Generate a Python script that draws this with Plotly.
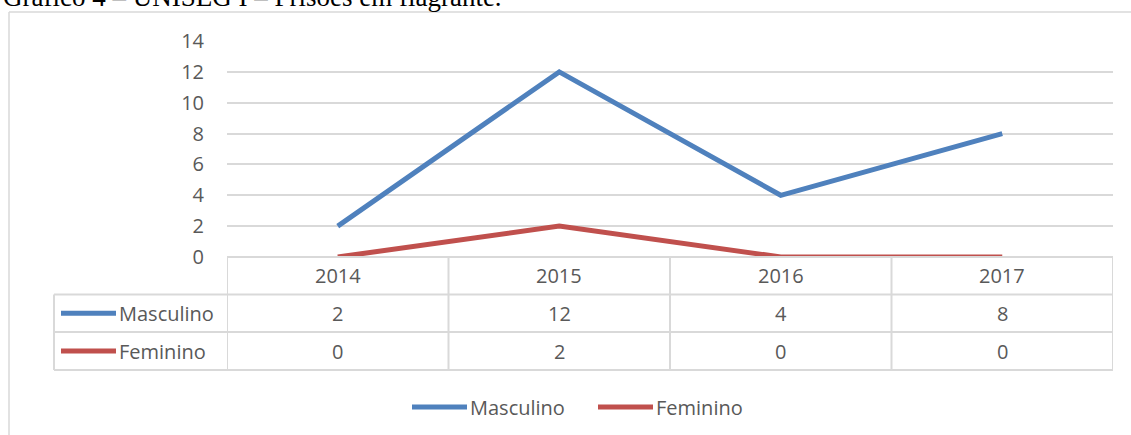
import plotly.graph_objects as go

# ---- data ----
years = ["2014", "2015", "2016", "2017"]
masculino = [2, 12, 4, 8]
feminino = [0, 2, 0, 0]
series_names = ["Masculino", "Feminino"]
y_ticks = [0, 2, 4, 6, 8, 10, 12, 14]
title_text = "Gráfico 4 – UNISEG I – Prisões em flagrante."

# ---- styling ----
W, H = 1131, 435
L, R, T, B = 227, 1113, 41, 257
BLUE = "#4f81bd"
RED = "#c0504d"
GRID = "#d9d9d9"
TXT = "#595959"
FONT = "Open Sans"
FS = 20


def px(xp):
    return (xp - L) / (R - L)


def py(yp):
    return 1 - (yp - T) / (B - T)


fig = go.Figure()
series = [masculino, feminino]
colors = [BLUE, RED]
for name, vals, c in zip(series_names, series, colors):
    fig.add_trace(go.Scatter(x=years, y=vals, mode="lines", name=name,
                             line=dict(color=c, width=5), showlegend=False,
                             cliponaxis=False))

shapes = []
annotations = []

# frame of the chart area
shapes.append(dict(type="line", xref="paper", yref="paper", x0=px(9), x1=px(W + 5),
                   y0=py(12), y1=py(12), line=dict(color=GRID, width=1.5)))
shapes.append(dict(type="line", xref="paper", yref="paper", x0=px(9), x1=px(9),
                   y0=py(12), y1=py(H + 5), line=dict(color=GRID, width=1.5)))

# data table
row_y = [257, 294.5, 332, 370]
tl = dict(color=GRID, width=2)
shapes.append(dict(type="line", xref="paper", yref="paper", x0=0, x1=1,
                   y0=py(row_y[0]), y1=py(row_y[0]), line=tl))
for ry in row_y[1:]:
    shapes.append(dict(type="line", xref="paper", yref="paper", x0=px(54), x1=1,
                       y0=py(ry), y1=py(ry), line=tl))
shapes.append(dict(type="line", xref="paper", yref="paper", x0=px(54), x1=px(54),
                   y0=py(row_y[1]), y1=py(row_y[3]), line=tl))
for k in range(len(years) + 1):
    shapes.append(dict(type="line", xref="x", yref="paper", x0=k - 0.5, x1=k - 0.5,
                       y0=py(row_y[0]), y1=py(row_y[3]), line=tl))

cell_font = dict(family=FONT, size=FS, color=TXT)

# header years
for k, yr in enumerate(years):
    annotations.append(dict(x=k, y=py((row_y[0] + row_y[1]) / 2), xref="x", yref="paper",
                            text=yr, showarrow=False, xanchor="center", yanchor="middle",
                            font=cell_font))
# rows
for i, (name, vals, c) in enumerate(zip(series_names, series, colors)):
    cy = (row_y[i + 1] + row_y[i + 2]) / 2
    shapes.append(dict(type="line", xref="paper", yref="paper", x0=px(61), x1=px(116),
                       y0=py(cy), y1=py(cy), line=dict(color=c, width=5)))
    annotations.append(dict(x=px(117), y=py(cy), xref="paper", yref="paper", text=name,
                            xanchor="left", yanchor="middle", showarrow=False,
                            font=cell_font))
    for k, v in enumerate(vals):
        annotations.append(dict(x=k, y=py(cy), xref="x", yref="paper", text=str(v),
                                showarrow=False, xanchor="center", yanchor="middle",
                                font=cell_font))

# bottom legend
leg_y = 407
leg_x = [412, 598]
for name, c, lx in zip(series_names, colors, leg_x):
    shapes.append(dict(type="line", xref="paper", yref="paper", x0=px(lx), x1=px(lx + 55),
                       y0=py(leg_y), y1=py(leg_y), line=dict(color=c, width=5)))
    annotations.append(dict(x=px(lx + 56), y=py(leg_y), xref="paper", yref="paper", text=name,
                            xanchor="left", yanchor="middle", showarrow=False,
                            font=cell_font))

# title (cut at the top, as in the source)
annotations.append(dict(x=px(1), y=py(14), xref="paper", yref="paper", text=title_text,
                        xanchor="left", yanchor="bottom", showarrow=False,
                        font=dict(family="Liberation Serif", size=27, color="black")))

fig.update_layout(
    width=W, height=H,
    margin=dict(l=L, r=W - R, t=T, b=H - B, pad=0),
    paper_bgcolor="white", plot_bgcolor="white",
    shapes=shapes, annotations=annotations,
    xaxis=dict(type="category", range=[-0.5, 3.5], showgrid=False, showline=False,
               zeroline=False, showticklabels=False, ticks=""),
    yaxis=dict(range=[0, 14], tickvals=y_ticks, showgrid=True, gridcolor=GRID, gridwidth=1.5,
               zeroline=False, showline=False, ticks="", ticklabelstandoff=22,
               tickfont=dict(family=FONT, size=FS, color=TXT)),
)

fig.write_html("out.html", config={"displayModeBar": False},
               post_script="document.body.style.margin='0';document.body.style.overflow='hidden';")
